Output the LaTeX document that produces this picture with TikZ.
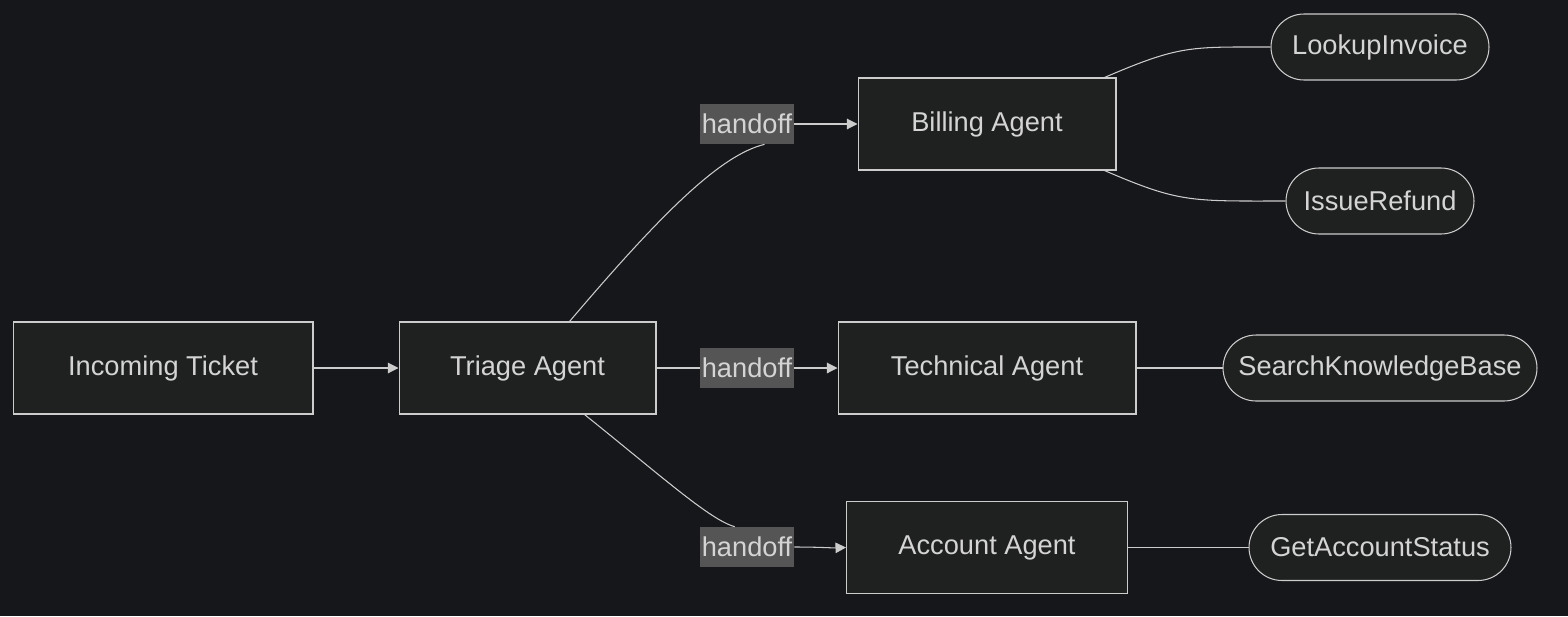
\documentclass[tikz,border=0pt]{standalone}
\usepackage{fontspec}
\setmainfont{Liberation Sans}
\usetikzlibrary{arrows.meta,positioning}
\definecolor{bg}{HTML}{16171B}
\definecolor{boxfill}{HTML}{1F2020}
\definecolor{edge}{HTML}{CCCCCC}
\definecolor{txt}{HTML}{D4D4D4}
\definecolor{lblfill}{HTML}{555555}
\tikzset{
	agent/.style={draw=edge, fill=boxfill, text=txt, minimum height=1.84cm, font=\fontsize{15.5}{18}\selectfont, line width=0.6pt},
	tool/.style={draw=edge, fill=boxfill, text=txt, rounded corners=0.66cm, minimum height=1.32cm, font=\fontsize{15.5}{18}\selectfont, line width=0.6pt},
	hand/.style={fill=lblfill, text=txt, inner sep=0pt, minimum width=1.88cm, minimum height=0.8cm, font=\fontsize{15.5}{18}\selectfont},
	link/.style={draw=edge, line width=0.6pt},
	arr/.style={link, -{Triangle[length=6pt,width=6pt]}}
}
\begin{document}
\begin{tikzpicture}[x=0.02cm, y=-0.02cm]

	\fill[bg] (0,0) rectangle (1568,616);

	\node[agent, minimum width=6cm] (ticket) at (163,368) {Incoming Ticket};
	\node[agent, minimum width=5.14cm] (triage) at (527.5,368) {Triage Agent};
	\node[agent, minimum width=5.16cm] (billing) at (987,124) {Billing Agent};
	\node[agent, minimum width=5.96cm] (tech) at (987,368) {Technical Agent};
	\node[agent, minimum width=5.62cm] (account) at (987,547.5) {Account Agent};

	\node[tool, minimum width=4.36cm] (invoice) at (1380,47) {LookupInvoice};
	\node[tool, minimum width=3.76cm] (refund) at (1380,201) {IssueRefund};
	\node[tool, minimum width=6.28cm] (kb) at (1380,368) {SearchKnowledgeBase};
	\node[tool, minimum width=5.24cm] (status) at (1380,547.5) {GetAccountStatus};

	\node[hand] (h1) at (747,124) {handoff};
	\node[hand] (h2) at (747,368) {handoff};
	\node[hand] (h3) at (747,547) {handoff};

	\draw[arr] (ticket) -- (triage);

	\draw[link] (triage.north) ++(42,0) coordinate (t1) .. controls (660,215) and (720,155) .. ([xshift=10]h1.south);
	\draw[arr] (h1.east) .. controls (820,124) and (830,124) .. (billing.west);
	\draw[link] (triage) -- (h2);
	\draw[arr] (h2) -- (tech);
	\draw[link] (triage.south) ++(57,0) coordinate (t3) .. controls (660,475) and (710,520) .. ([xshift=-7]h3.north);
	\draw[arr] (h3.east) .. controls (820,547) and (830,548) .. (account.west);

	\draw[link] (billing.north east) ++(-12,0) coordinate (b1) .. controls (1180,45) and (1190,47) .. (invoice.west);
	\draw[link] (billing.south east) ++(-12,0) coordinate (b2) .. controls (1180,203) and (1190,201) .. (refund.west);
	\draw[link] (tech) -- (kb);
	\draw[link] (account) -- (status);

\end{tikzpicture}
\end{document}
